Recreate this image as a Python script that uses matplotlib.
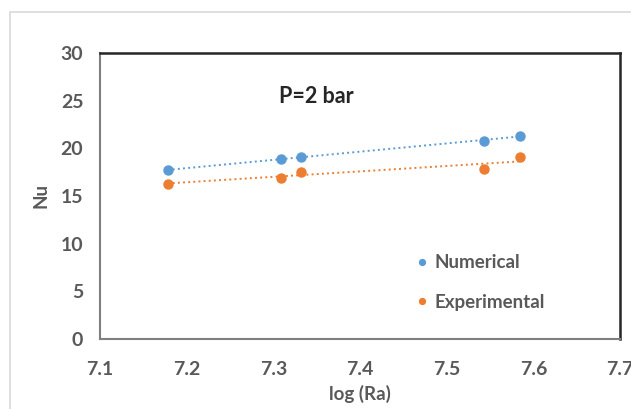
import numpy as np
import matplotlib
matplotlib.use("Agg")
import matplotlib.pyplot as plt
from matplotlib.patches import Rectangle

# values
log_ra = [7.178, 7.309, 7.332, 7.543, 7.585]
nu_numerical = [17.7, 18.9, 19.1, 20.8, 21.3]
nu_experimental = [16.3, 16.9, 17.5, 17.8, 19.1]
x_ticks = [7.1, 7.2, 7.3, 7.4, 7.5, 7.6, 7.7]
y_ticks = [0, 5, 10, 15, 20, 25, 30]

BLUE = "#5B9BD5"
ORANGE = "#ED7D31"
GREY = "#595959"

plt.rcParams["font.family"] = ["Lato", "DejaVu Sans"]

fig = plt.figure(figsize=(6.31, 4.09), dpi=100)
# chart-area border, as in the Excel export
fig.patches.append(Rectangle((10 / 631, -0.1), 1.1, 0.1 + (409 - 12) / 409,
                             transform=fig.transFigure, fill=False,
                             edgecolor="#d9d9d9", linewidth=1.2))

ax = fig.add_axes([100 / 631, 70 / 409, 520 / 631, 286 / 409])

for xs, ys, col, lab in [(log_ra, nu_numerical, BLUE, "Numerical"),
                         (log_ra, nu_experimental, ORANGE, "Experimental")]:
    ax.plot(xs, ys, "o", color=col, markersize=6.5, label=lab, zorder=3)
    # linear trendline
    k, b = np.polyfit(xs, ys, 1)
    tx = np.array([min(xs), max(xs)])
    ax.plot(tx, k * tx + b, linestyle=":", color=col, linewidth=1.4, zorder=2)

ax.set_xlim(7.1, 7.7)
ax.set_ylim(0, 30)
ax.set_xticks(x_ticks)
ax.set_yticks(y_ticks)
ax.set_xticklabels([f"{v:.1f}" for v in x_ticks])
ax.tick_params(length=0, labelsize=14, colors=GREY)
ax.tick_params(axis="x", pad=16)
ax.tick_params(axis="y", pad=12)
for lbl in ax.get_xticklabels() + ax.get_yticklabels():
    lbl.set_fontweight("bold")

for side in ["top", "right"]:
    ax.spines[side].set_color("#262626")
    ax.spines[side].set_linewidth(1.8)
for side in ["left", "bottom"]:
    ax.spines[side].set_color("#7f7f7f")
    ax.spines[side].set_linewidth(1.5)

ax.text(7.35, 25.4, "P=2 bar", fontsize=15.5, fontweight="bold",
        color="#262626", ha="center", va="center")

ax.set_xlabel("log (Ra)", fontsize=13.5, fontweight="bold", color=GREY, labelpad=5)
ax.set_ylabel("Nu", fontsize=13.5, fontweight="bold", color=GREY, labelpad=8)

leg = ax.legend(loc="upper left", bbox_to_anchor=(0.575, 0.355), frameon=False,
                markerscale=0.65, handlelength=0.6, handletextpad=0.4,
                labelspacing=1.2, fontsize=13.5)
for t in leg.get_texts():
    t.set_color(GREY)
    t.set_fontweight("bold")

fig.savefig("out.png", dpi=100)
plt.close(fig)
